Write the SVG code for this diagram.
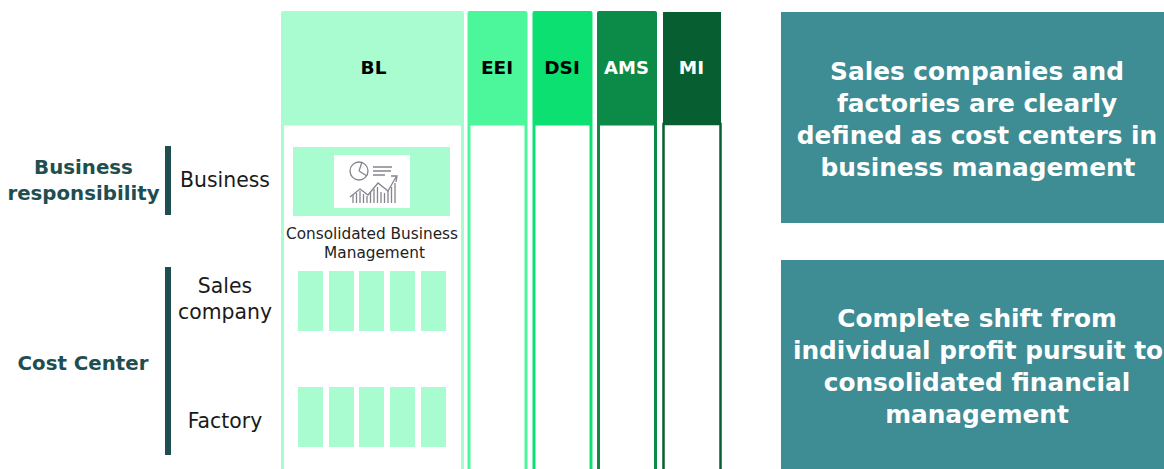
<svg xmlns="http://www.w3.org/2000/svg" width="1164" height="469" viewBox="0 0 1164 469">
<style>
text{font-family:"DejaVu Sans",Verdana,sans-serif;text-anchor:middle}
.hd{font-size:18.500px;font-weight:700}
.lb{font-size:20.400px;font-weight:400;fill:#1a1a1a}
.grp{font-size:19.800px;font-weight:700;fill:#1f4e50}
.pn{font-size:24.800px;font-weight:700;fill:#fff}
.cap{font-size:15.300px;fill:#222}
.m{fill:#a9fcd0}
.bar{fill:#1f4e50}
.panel{fill:#3e8c94}
.ic{fill:none;stroke:#85858f;stroke-width:1.300}
</style>
<g id="col-BL">
<rect class="m" x="281" y="11" width="183" height="113" rx="2"/>
<rect x="282.500" y="124" width="180" height="347" fill="none" stroke="#a9fcd0" stroke-width="3"/>
<text class="hd" x="373.500" y="74">BL</text>
</g>
<g id="col-EEI">
<rect x="467.500" y="11" width="60" height="113" rx="2" fill="#4cf79c"/>
<rect x="469" y="124" width="57" height="347" fill="none" stroke="#4cf79c" stroke-width="3"/>
<text class="hd" x="497" y="74">EEI</text>
</g>
<g id="col-DSI">
<rect x="532.500" y="11" width="60" height="113" rx="2" fill="#0ce070"/>
<rect x="534" y="124" width="57" height="347" fill="none" stroke="#0ce070" stroke-width="3"/>
<text class="hd" x="562" y="74">DSI</text>
</g>
<g id="col-AMS">
<rect x="597" y="11" width="60" height="113" rx="2" fill="#0b8a48"/>
<rect x="598.500" y="124" width="57" height="347" fill="none" stroke="#0b8a48" stroke-width="3"/>
<text class="hd" x="626.500" y="74" fill="#fff" style="font-size:18px">AMS</text>
</g>
<g id="col-MI">
<rect x="663" y="12" width="58" height="112" fill="#075e31"/>
<rect x="663.500" y="124" width="57" height="347" fill="none" stroke="#075e31" stroke-width="2.500"/>
<text class="hd" x="691.500" y="74" fill="#fff">MI</text>
</g>
<g id="consolidated">
<rect class="m" x="293" y="147" width="157" height="69"/>
<rect x="334" y="155" width="76" height="53" fill="#fff"/>
<circle class="ic" cx="359" cy="171" r="9"/>
<path class="ic" d="M359 171L362 162M359 171L367 176M373 167H392M373 171H391M373 175H385M350 197L360 189L368 195L378 183L388 191L396 177M391 176L397 176L396 182"/>
<path class="ic" d="M353 203V195M356.500 203V193M360 203V191M363.500 203V194M367 203V196M370.500 203V192M374 203V189M377.500 203V187M381 203V192M384.500 203V193M388 203V191M391.500 203V187M395 203V183"/>
<text class="cap" x="372" y="239">Consolidated Business</text>
<text class="cap" x="374.500" y="258">Management</text>
</g>
<g id="sales-cells">
<rect class="m" x="298" y="271" width="25" height="60"/>
<rect class="m" x="329" y="271" width="25" height="60"/>
<rect class="m" x="359" y="271" width="25" height="60"/>
<rect class="m" x="390" y="271" width="25" height="60"/>
<rect class="m" x="421" y="271" width="25" height="60"/>
</g>
<g id="factory-cells">
<rect class="m" x="298" y="387" width="25" height="60"/>
<rect class="m" x="329" y="387" width="25" height="60"/>
<rect class="m" x="359" y="387" width="25" height="60"/>
<rect class="m" x="390" y="387" width="25" height="60"/>
<rect class="m" x="421" y="387" width="25" height="60"/>
</g>
<g id="business-responsibility">
<rect class="bar" x="165" y="146" width="6" height="69"/>
<text class="grp" x="83.500" y="174">Business</text>
<text class="grp" x="83.500" y="200">responsibility</text>
<text class="lb" x="225" y="187">Business</text>
</g>
<g id="cost-center">
<rect class="bar" x="165" y="267" width="6" height="188"/>
<text class="grp" x="83" y="370">Cost Center</text>
<text class="lb" x="225" y="293">Sales</text>
<text class="lb" x="225" y="319">company</text>
<text class="lb" x="225" y="428">Factory</text>
</g>
<g id="panel-1">
<rect class="panel" x="781" y="12" width="383" height="211"/>
<text class="pn" x="977" y="80">Sales companies and</text>
<text class="pn" x="977" y="112">factories are clearly</text>
<text class="pn" x="977" y="144">defined as cost centers in</text>
<text class="pn" x="978" y="176">business management</text>
</g>
<g id="panel-2">
<rect class="panel" x="781" y="260" width="383" height="209"/>
<text class="pn" x="977" y="327">Complete shift from</text>
<text class="pn" x="978" y="359">individual profit pursuit to</text>
<text class="pn" x="977" y="391">consolidated financial</text>
<text class="pn" x="977" y="423">management</text>
</g>
</svg>
